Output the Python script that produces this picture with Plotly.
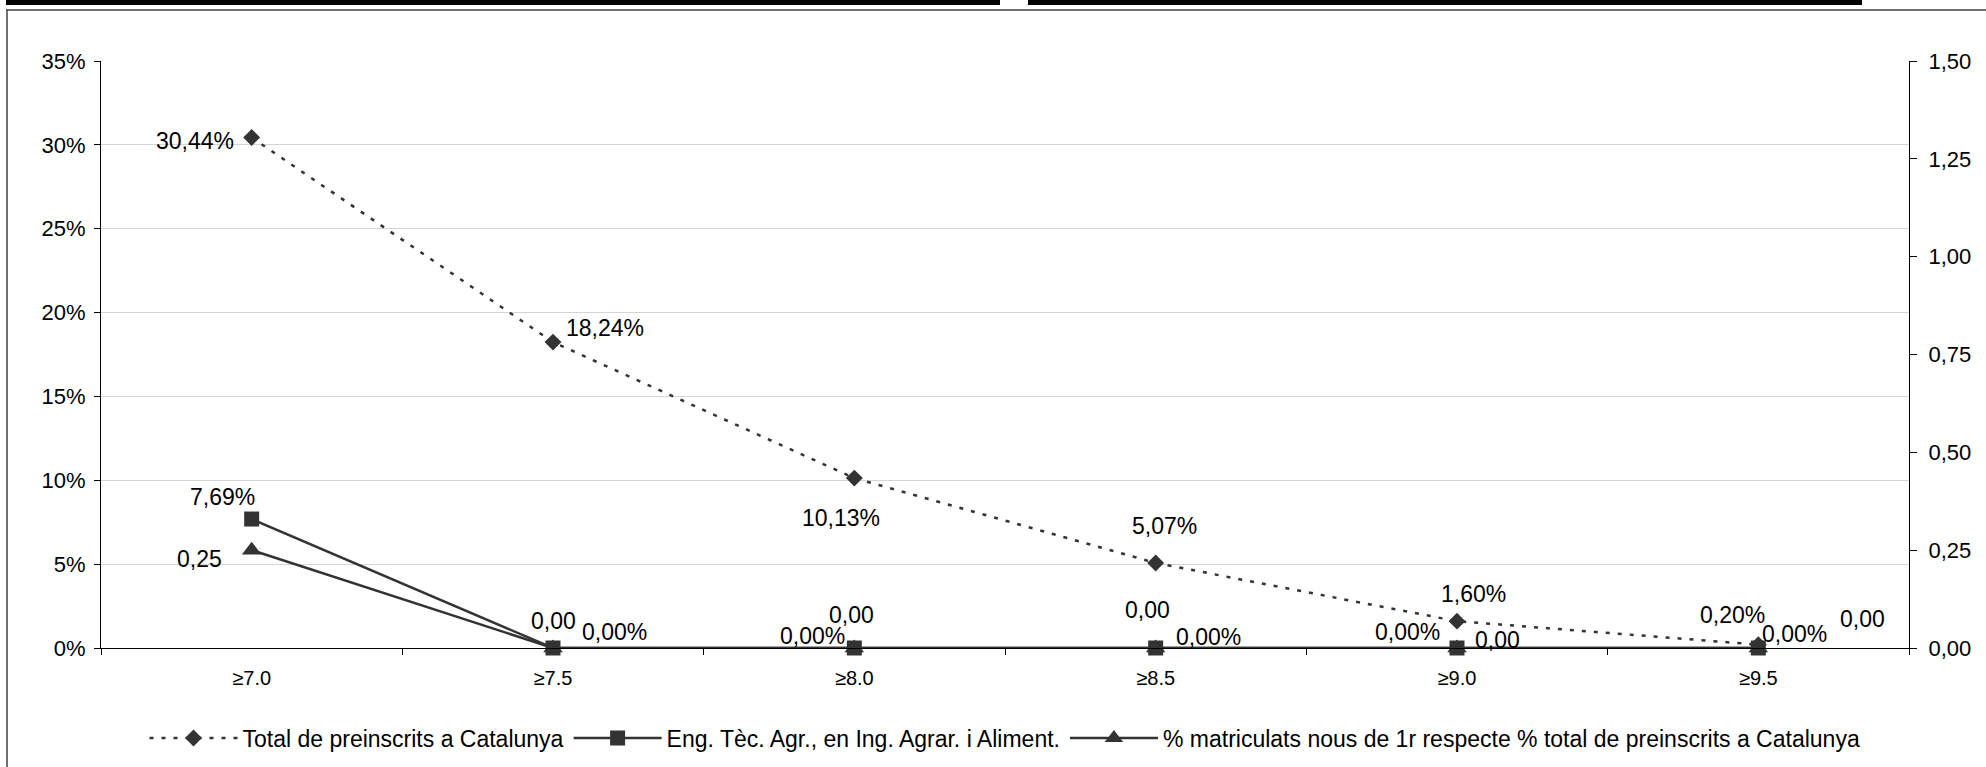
import plotly.graph_objects as go

# ---------------- data ----------------
categories = ["≥7.0", "≥7.5", "≥8.0", "≥8.5", "≥9.0", "≥9.5"]
total_preinscrits = [30.44, 18.24, 10.13, 5.07, 1.60, 0.20]          # % (left axis)
eng_tec_agr = [7.69, 0.00, 0.00, 0.00, 0.00, 0.00]                   # % (left axis)
matriculats_ratio = [0.25, 0.00, 0.00, 0.00, 0.00, 0.00]             # ratio (right axis)

series_names = [
    "Total de preinscrits a Catalunya",
    "Eng. Tèc. Agr., en Ing. Agrar. i Aliment.",
    "% matriculats nous de 1r respecte % total de preinscrits a Catalunya",
]

left_tick_vals = [0, 5, 10, 15, 20, 25, 30, 35]
left_tick_text = ["0%", "5%", "10%", "15%", "20%", "25%", "30%", "35%"]
right_tick_vals = [0, 0.25, 0.5, 0.75, 1.0, 1.25, 1.5]
right_tick_text = ["0,00", "0,25", "0,50", "0,75", "1,00", "1,25", "1,50"]

# label offsets in screen pixels (dx right, dy down) relative to each point
off_total = [(-57, 4), (52, -14), (-13, 40), (9, -37), (16, -27), (-26, -30)]
off_eng = [(-29, -22), (61, -16), (-42, -12), (53, -11), (-50, -16), (36, -14)]
off_mat = [(-52, 9), (0, -27), (-3, -33), (-8, -38), (40, -8), (104, -29)]

DARK = "#333333"
FONT = "Liberation Sans, Arial, sans-serif"


def fmt(v, pct):
    s = f"{v:.2f}".replace(".", ",")
    return s + "%" if pct else s


fig = go.Figure()

fig.add_trace(go.Scatter(
    x=categories, y=total_preinscrits, name=series_names[0], mode="lines+markers",
    line=dict(color=DARK, width=2.5, dash="4px,8px"),
    marker=dict(symbol="diamond", size=13, color=DARK),
    yaxis="y", cliponaxis=False,
))
fig.add_trace(go.Scatter(
    x=categories, y=eng_tec_agr, name=series_names[1], mode="lines+markers",
    line=dict(color=DARK, width=2.5),
    marker=dict(symbol="square", size=15, color=DARK),
    yaxis="y", cliponaxis=False,
))
fig.add_trace(go.Scatter(
    x=categories, y=matriculats_ratio, name=series_names[2], mode="lines+markers",
    line=dict(color=DARK, width=2.5),
    marker=dict(symbol="triangle-up", size=17, color=DARK),
    yaxis="y2", cliponaxis=False,
))

annotations = []
for vals, offs, yref, pct in [
    (total_preinscrits, off_total, "y", True),
    (eng_tec_agr, off_eng, "y", True),
    (matriculats_ratio, off_mat, "y2", False),
]:
    for c, v, (dx, dy) in zip(categories, vals, offs):
        annotations.append(dict(
            x=c, y=v, xref="x", yref=yref, text=fmt(v, pct), showarrow=False,
            xshift=dx, yshift=-dy, xanchor="center", yanchor="middle",
            font=dict(family=FONT, size=23, color="#000000"),
        ))

# decorative frame (paper coordinates)
W, H = 1986, 767
L, R, T, B = 101, 77, 61, 119
pw, ph = W - L - R, H - T - B


def px(x):
    return (x - L) / pw


def py(y):
    return (H - B - y) / ph


shapes = [
    dict(type="rect", xref="paper", yref="paper", x0=px(6), x1=px(1000), y0=py(5), y1=py(0),
         fillcolor="#000000", line=dict(width=0), layer="above"),
    dict(type="rect", xref="paper", yref="paper", x0=px(1028), x1=px(1862), y0=py(5), y1=py(0),
         fillcolor="#000000", line=dict(width=0), layer="above"),
    dict(type="line", xref="paper", yref="paper", x0=px(6), x1=px(1990), y0=py(10), y1=py(10),
         line=dict(color="#404040", width=1.5)),
    dict(type="line", xref="paper", yref="paper", x0=px(7), x1=px(7), y0=py(10), y1=py(770),
         line=dict(color="#404040", width=1.5)),
]

fig.update_layout(
    width=W, height=H,
    margin=dict(l=L, r=R, t=T, b=B, pad=0, autoexpand=False),
    paper_bgcolor="white", plot_bgcolor="white",
    font=dict(family=FONT, size=22, color="#000000"),
    showlegend=True,
    legend=dict(orientation="h", x=0.5, xanchor="center", y=py(738), yanchor="middle",
                font=dict(family=FONT, size=23, color="#000000"),
                bgcolor="rgba(0,0,0,0)", itemwidth=88),
    xaxis=dict(
        type="category", range=[-0.5, 5.5], tickson="boundaries", automargin=False,
        showline=True, linecolor="#000000", linewidth=1.2,
        ticks="outside", ticklen=6, tickcolor="#000000", tickwidth=1.2,
        showgrid=False, zeroline=False, ticklabelstandoff=12,
        tickfont=dict(family=FONT, size=20, color="#000000"),
    ),
    yaxis=dict(
        range=[0, 35], tickvals=left_tick_vals, ticktext=left_tick_text, automargin=False,
        showline=True, linecolor="#000000", linewidth=1.2,
        ticks="outside", ticklen=6, tickcolor="#000000", tickwidth=1.2,
        showgrid=True, gridcolor="#d4d4d4", gridwidth=1, zeroline=False,
        ticklabelstandoff=4,
        tickfont=dict(family=FONT, size=22, color="#000000"),
    ),
    yaxis2=dict(
        range=[0, 1.5], tickvals=right_tick_vals, ticktext=right_tick_text, automargin=False,
        overlaying="y", side="right",
        showline=True, linecolor="#000000", linewidth=1.2,
        ticks="outside", ticklen=7, tickcolor="#000000", tickwidth=1.2,
        showgrid=False, zeroline=False, ticklabelstandoff=7,
        tickfont=dict(family=FONT, size=22, color="#000000"),
    ),
    annotations=annotations,
    shapes=shapes,
)

fig.write_html(
    "out.html",
    config={"displayModeBar": False},
    post_script="document.body.style.margin='0';document.body.style.overflow='hidden';",
)
